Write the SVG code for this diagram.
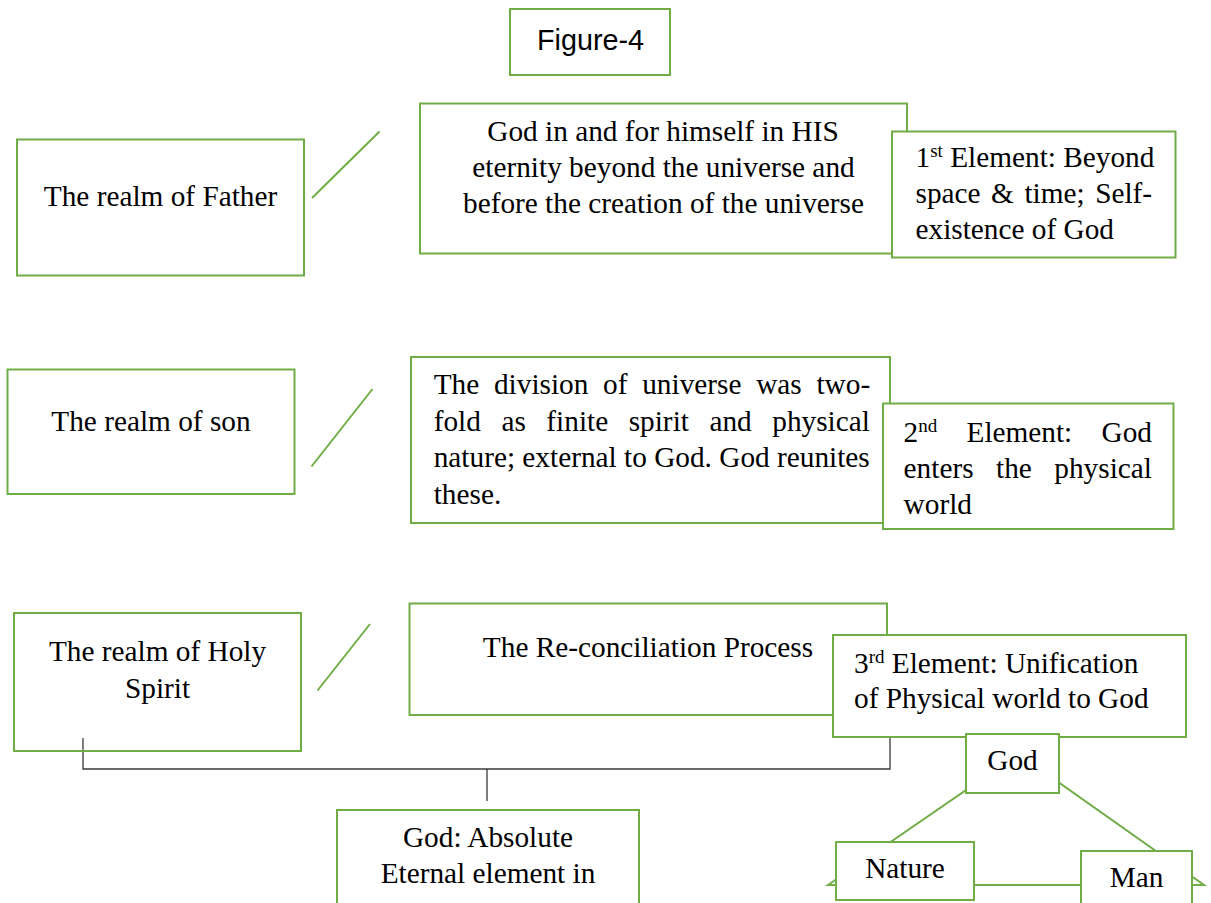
<svg xmlns="http://www.w3.org/2000/svg" width="1211" height="903" viewBox="0 0 1211 903">
<style>
.box{fill:#fff;stroke:#70AD47;stroke-width:2}
.open{fill:none;stroke:#70AD47;stroke-width:2}
.gl{fill:none;stroke:#70AD47;stroke-width:2}
.br{fill:none;stroke:#3a3a3a;stroke-width:1.3}
.t{font-family:"Liberation Serif","Times New Roman",serif;font-size:29.3px;fill:#000}
.c{text-anchor:middle}
.sans{font-family:"Liberation Sans",Arial,sans-serif;font-size:30px;fill:#000;text-anchor:middle}
</style>
<rect width="1211" height="903" fill="#fff"/>
<g id="connectors">
  <line class="gl" x1="312" y1="198" x2="379.5" y2="131.5"/>
  <line class="gl" x1="311.5" y1="466.5" x2="372.5" y2="389"/>
  <line class="gl" x1="317.5" y1="690.5" x2="370" y2="624"/>
  <path class="br" d="M83,738 V769 H890 V737 M487,769 V801"/>
  <polygon class="gl" points="828,885 1018.5,754 1204,885"/>
</g>
<g id="figure">
  <rect class="box" x="510" y="9" width="160" height="66"/>
  <text class="sans" x="590.5" y="50" textLength="107" lengthAdjust="spacingAndGlyphs">Figure-4</text>
</g>
<g id="father">
  <rect class="box" x="17" y="139.5" width="287" height="136"/>
  <text class="t c" x="160.5" y="206">The realm of Father</text>
</g>
<g id="god-himself">
  <rect class="box" x="420" y="103.5" width="487" height="150"/>
  <text class="t c" x="663" y="141">God in and for himself in HIS</text>
  <text class="t c" x="663.5" y="177">eternity beyond the universe and</text>
  <text class="t c" x="663.5" y="213">before the creation of the universe</text>
</g>
<g id="element-1">
  <rect class="box" x="892" y="131.5" width="283.5" height="126"/>
  <text class="t" x="915.5" y="167.3">1<tspan font-size="19" dy="-10">st</tspan><tspan dy="10"> Element: Beyond</tspan></text>
  <text class="t" x="915.5" y="203" word-spacing="3.2">space &amp; time; Self-</text>
  <text class="t" x="915.5" y="239">existence of God</text>
</g>
<g id="son">
  <rect class="box" x="7.5" y="369.5" width="287" height="124.5"/>
  <text class="t c" x="151" y="430.7">The realm of son</text>
</g>
<g id="division">
  <rect class="box" x="411" y="357" width="479" height="166"/>
  <text class="t" x="433.7" y="394" word-spacing="7.4">The division of universe was two-</text>
  <text class="t" x="433.7" y="430.5" word-spacing="13.2">fold as finite spirit and physical</text>
  <text class="t" x="433.7" y="467">nature; external to God. God reunites</text>
  <text class="t" x="433.7" y="503.5">these.</text>
</g>
<g id="element-2">
  <rect class="box" x="883" y="403.5" width="290.5" height="125.5"/>
  <text class="t" y="441.7"><tspan x="903.6">2</tspan><tspan font-size="19" dy="-10">nd</tspan><tspan x="966.5" dy="10">Element:</tspan><tspan x="1101.5">God</tspan></text>
  <text class="t" y="478.3"><tspan x="903.6">enters</tspan><tspan x="996">the</tspan><tspan x="1054.3">physical</tspan></text>
  <text class="t" x="903.6" y="514">world</text>
</g>
<g id="holy-spirit">
  <rect class="open" x="14" y="613" width="287" height="138"/>
  <text class="t c" x="157.5" y="661">The realm of Holy</text>
  <text class="t c" x="157.5" y="698">Spirit</text>
</g>
<g id="reconciliation">
  <rect class="box" x="409.5" y="603.5" width="477.5" height="111.5"/>
  <text class="t c" x="648" y="656.7">The Re-conciliation Process</text>
</g>
<g id="element-3">
  <rect class="box" x="833" y="635" width="353" height="102"/>
  <text class="t" x="854" y="672.7">3<tspan font-size="19" dy="-10">rd</tspan><tspan dy="10"> Element: Unification</tspan></text>
  <text class="t" x="854" y="708.3">of Physical world to God</text>
</g>
<g id="absolute">
  <rect class="box" x="337" y="810" width="302" height="100"/>
  <text class="t c" x="488" y="847.3">God: Absolute</text>
  <text class="t c" x="488" y="883.3">Eternal element in</text>
</g>
<g id="god">
  <rect class="box" x="966" y="734" width="93" height="59"/>
  <text class="t c" x="1012.5" y="770">God</text>
</g>
<g id="nature">
  <rect class="box" x="836" y="842" width="138" height="58"/>
  <text class="t c" x="905" y="878.3">Nature</text>
</g>
<g id="man">
  <rect class="box" x="1081" y="851" width="111" height="60"/>
  <text class="t c" x="1136.5" y="886.7">Man</text>
</g>
</svg>
